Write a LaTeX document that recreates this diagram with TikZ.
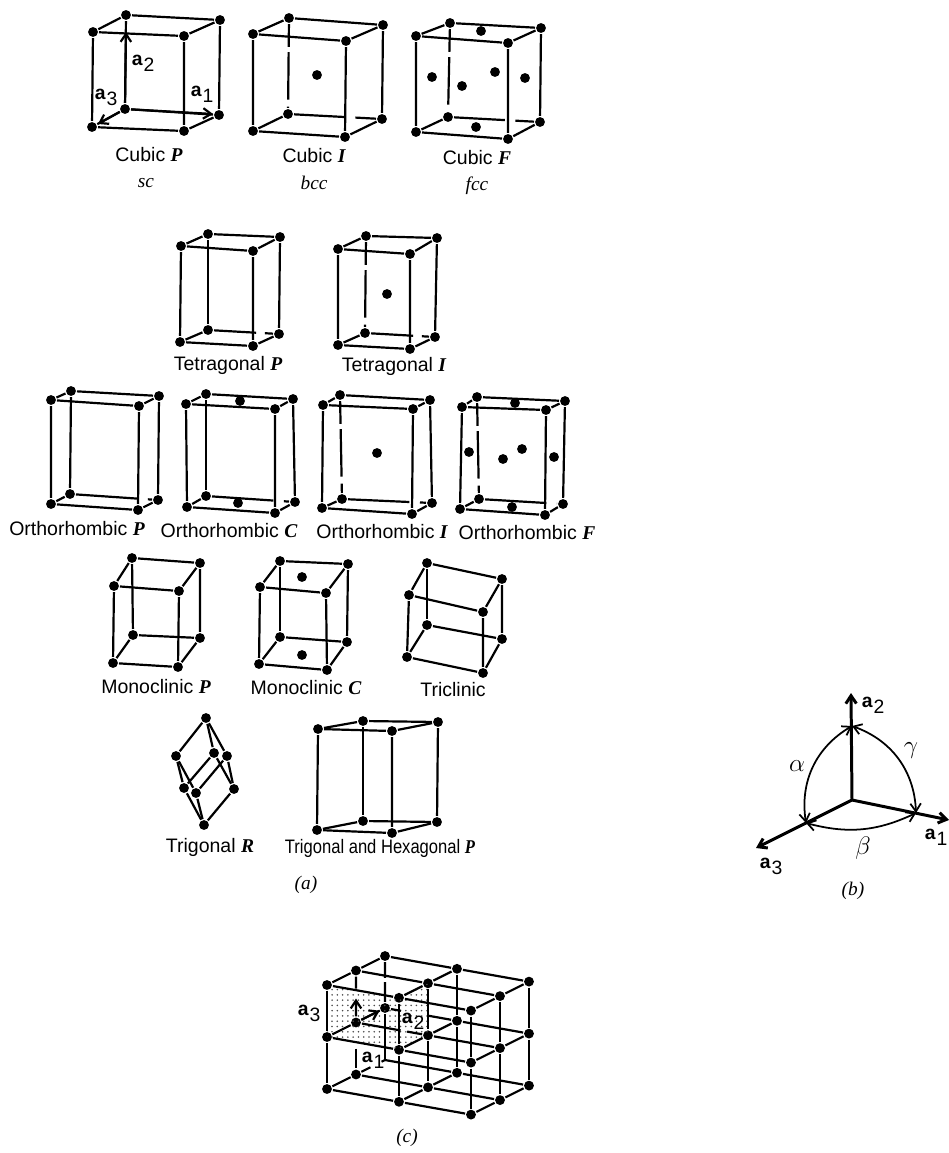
\documentclass[tikz,border=0pt]{standalone}
\usepackage{fontspec}
\setmainfont{Liberation Sans}
\newfontfamily\capfont{Liberation Serif}
\usetikzlibrary{%
  arrows.meta,%
  patterns,% shaded plane in (c)
  calc%
}

% bold italic lattice letter
\newcommand{\lett}[1]{{\capfont\bfseries\itshape #1}}
% basis vector
\newcommand{\avec}[1]{\textbf{a}\kern0.5pt\raisebox{-0.6ex}{#1}}

% name, back vertical, back horizontal, corners
\newcommand{\latticecell}[4]{
  \foreach \c/\x/\y in {#4} {
    \node[atom] (#1\c) at (\x,\y) {};
  }
  \draw (#1a) -- (#1b) -- (#1d) -- (#1c) -- (#1a);
  \draw (#1e) -- (#1f) -- (#1h);
  \draw (#1a) -- (#1e);
  \draw (#1b) -- (#1f);
  \draw (#1c) -- (#1g);
  \draw (#1d) -- (#1h);
  \draw[#2] (#1e) -- (#1g);
  \draw[#3] (#1g) -- (#1h);
}

\begin{document}
\begin{tikzpicture}
  [
  x=0.02cm, y=-0.02cm, line width=1.25pt, >={Straight Barb[length=4.5pt,width=6pt]},
  atom/.style={circle, fill=black, inner sep=0pt, minimum size=5.6pt},
  lbl/.style={inner sep=0pt, font=\fontsize{11.1}{13}\selectfont},
  capt/.style={inner sep=0pt, font=\fontsize{11}{13}\capfont\itshape},
  vec/.style={inner sep=0pt, font=\fontsize{11}{13}\selectfont},
  greek/.style={inner sep=0pt, font=\Large},
  axis/.style={->, line width=1.7pt},
  angl/.style={<->, line width=1pt},
  plainln/.style={},
  vgap/.style={dash pattern=on 13pt off 3pt on 27pt off 4pt on 20pt off 1pt},
  hgapa/.style={dash pattern=on 29pt off 6pt on 30pt off 1pt},
  hgapb/.style={dash pattern=on 24pt off 5pt on 30pt off 1pt},
  hgapc/.style={dash pattern=on 35pt off 6pt on 30pt off 1pt}
  ]
\useasboundingbox (0,0) rectangle (949,1153);

% (a) cubic
\latticecell{cp}{plainln}{plainln}{a/93/32,b/184/36,c/92/127,d/184/131,e/126/15,f/220/20,g/125/109,h/219/115}
\latticecell{ci}{vgap}{hgapa}{a/253/34,b/346/41,c/253/131,d/345/137,e/289/18,f/383/25,g/288/114,h/382/119}
\latticecell{cf}{vgap}{hgapa}{a/416/36,b/508/43,c/416/132,d/508/139,e/450/23,f/541/28,g/448/117,h/540/122}
\node[atom] (cid) at (317,75) {};
\foreach \n/\x/\y in {1/481/31,2/432/77,3/462/86,4/495/72,5/525/78,6/476/127} {
  \node[atom] (cfd\n) at (\x,\y) {};
}
\coordinate (tipa) at (213,114);
\coordinate (tipb) at (126,32);
\coordinate (tipc) at (98,124);
\draw[->] (cpg) -- (tipa);
\draw[->] (cpg) -- (tipb);
\draw[->] (cpg) -- (tipc);
\node[vec] (cpa2) at (143,63) {\avec{2}};
\node[vec] (cpa3) at (106,97) {\avec{3}};
\node[vec] (cpa1) at (202,94) {\avec{1}};
\node[lbl] (cpl) at (149,155) {Cubic \lett{P}};
\node[lbl] (cil) at (314,156) {Cubic \lett{I}};
\node[lbl] (cfl) at (477,158) {Cubic \lett{F}};
\node[capt] (cps) at (146,183) {sc};
\node[capt] (cis) at (314,183) {bcc};
\node[capt] (cfs) at (477,186) {fcc};

% tetragonal
\latticecell{tp}{plainln}{hgapb}{a/181/246,b/253/251,c/180/342,d/253/346,e/208/234,f/280/237,g/208/330,h/279/334}
\latticecell{ti}{vgap}{hgapb}{a/338/249,b/410/254,c/338/345,d/410/349,e/366/236,f/437/238,g/365/333,h/435/337}
\node[atom] (tid) at (387,294) {};
\node[lbl] (tpl) at (228,365) {Tetragonal \lett{P}};
\node[lbl] (til) at (394,366) {Tetragonal \lett{I}};

% orthorhombic
\latticecell{op}{plainln}{hgapc}{a/51/400,b/139/406,c/51/504,d/138/510,e/71/391,f/159/396,g/70/494,h/158/500}
\latticecell{oc}{plainln}{hgapc}{a/186/404,b/275/409,c/187/507,d/275/513,e/206/394,f/293/399,g/206/496,h/295/502}
\latticecell{oi}{vgap}{hgapc}{a/323/405,b/413/409,c/322/508,d/412/514,e/340/395,f/430/400,g/342/499,h/432/503}
\latticecell{of}{vgap}{hgapc}{a/462/407,b/546/410,c/460/509,d/545/515,e/477/397,f/565/401,g/479/499,h/563/504}
\node[atom] (ocd1) at (240,401) {};
\node[atom] (ocd2) at (238,503) {};
\node[atom] (oid) at (377,453) {};
\foreach \n/\x/\y in {1/515/403,2/469/452,3/503/459,4/522/449,5/554/457,6/512/507} {
  \node[atom] (ofd\n) at (\x,\y) {};
}
\node[lbl] (opl) at (77,529) {Orthorhombic \lett{P}};
\node[lbl] (ocl) at (229,531) {Orthorhombic \lett{C}};
\node[lbl] (oil) at (382,532) {Orthorhombic \lett{I}};
\node[lbl] (ofl) at (527,533) {Orthorhombic \lett{F}};

% monoclinic, triclinic
\latticecell{mp}{plainln}{plainln}{a/114/586,b/179/591,c/113/663,d/178/667,e/132/558,f/200/563,g/133/635,h/200/638}
\latticecell{mc}{plainln}{plainln}{a/260/587,b/326/593,c/259/664,d/327/670,e/280/561,f/348/564,g/280/637,h/347/642}
\latticecell{tc}{plainln}{plainln}{a/409/595,b/483/612,c/407/657,d/483/673,e/427/563,f/502/579,g/427/625,h/502/639}
\node[atom] (mcd1) at (302,577) {};
\node[atom] (mcd2) at (302,655) {};
\node[lbl] (mpl) at (156,687) {Monoclinic \lett{P}};
\node[lbl] (mcl) at (306,688) {Monoclinic \lett{C}};
\node[lbl] (tcl) at (453,690) {Triclinic};

% trigonal R
\foreach \c/\x/\y in {t/206/718,a/176/756,k/214/753,d/227/756,p/184/788,q/196/793,r/234/789,b/204/825} {
  \node[atom] (tr\c) at (\x,\y) {};
}
\foreach \s/\e in {t/a,t/k,t/d,a/p,a/q,k/p,k/r,d/q,d/r,p/b,q/b,r/b} {
  \draw (tr\s) -- (tr\e);
}
\node[lbl] (trl) at (210,847) {Trigonal \lett{R}};

% hexagonal
\latticecell{hx}{plainln}{plainln}{a/318/729,b/392/731,c/317/830,d/392/833,e/363/721,f/438/722,g/363/821,h/437/822}
\node[lbl] (hxl) at (380,848) {\scalebox{0.85}[1]{Trigonal and Hexagonal \lett{P}}};
\node[capt] (capa) at (306,885) {(a)};

% (b) axes
\coordinate (org) at (852,800);
\coordinate (pa) at (916,813);
\coordinate (pb) at (852,726);
\coordinate (pc) at (806,823);
\coordinate (enda) at (949,820);
\coordinate (endb) at (851,693);
\coordinate (endc) at (756,848);
\draw[axis] (org) -- (enda);
\draw[axis] (org) -- (endb);
\draw[axis] (org) -- (endc);
\draw[angl] (pc) to[bend left=34] (pb);
\draw[angl] (pb) to[bend left=34] (pa);
\draw[angl] (pc) to[bend right=20] (pa);
\node[vec] (ba2) at (873,705) {\avec{2}};
\node[vec] (ba3) at (771,866) {\avec{3}};
\node[vec] (ba1) at (936,837) {\avec{1}};
\node[greek] (balpha) at (797,766) {$\alpha$};
\node[greek] (bgamma) at (911,751) {$\gamma$};
\node[greek] (bbeta) at (863,848) {$\beta$};
\node[capt] (capb) at (853,891) {(b)};

% (c) lattice: i along, j deep, k down
\foreach \i in {0,1,2} {
  \foreach \j in {0,1,2} {
    \foreach \k in {0,1,2} {
      \ifnum\i\j\k=22
        \coordinate (c\i\j\k) at (327+72*\i+29*\j,985+12.8*\i-14.5*\j+52*\k);
      \else
        \node[atom] (c\i\j\k) at (327+72*\i+29*\j,985+12.8*\i-14.5*\j+52*\k) {};
      \fi
    }
  }
}
\fill[pattern=dots, pattern color=black!70] (c000.center) -- (c100.center) -- (c110.center) -- (c111.center) -- (c101.center) -- (c001.center) -- cycle;

\foreach \i/\j in {0/0,1/0,2/0,1/1,2/1,1/2,2/2} {
  \draw (c\i\j0) -- (c\i\j1) -- (c\i\j2);
}
\foreach \i/\k in {0/0,1/0,2/0,0/1,1/1,2/1,1/2,2/2} {
  \draw (c\i0\k) -- (c\i1\k) -- (c\i2\k);
}
\foreach \j/\k in {0/0,1/0,2/0,0/1,0/2,1/2,2/2} {
  \draw (c0\j\k) -- (c1\j\k) -- (c2\j\k);
}
% the broken lines round the labels
\draw (c002) -- (c012);
\draw (c012) -- ($(c012)!0.5!(c022)$);
\draw (c022) -- ($(c022)!0.12!(c012)$);
\draw (c010) -- ($(c010)!0.35!(c011)$);
\draw[->] (c011) -- ($(c011)!0.46!(c010)$);
\draw ($(c011)!0.5!(c012)$) -- (c012);
\draw (c020) -- ($(c020)!0.42!(c021)$);
\draw ($(c020)!0.5!(c021)$) -- (c021);
\draw (c021) -- (c022);
\draw (c011) -- ($(c011)!0.62!(c111)$);
\draw ($(c011)!0.71!(c111)$) -- (c111) -- (c211);
\draw (c021) -- ($(c021)!0.22!(c121)$);
\draw ($(c021)!0.6!(c121)$) -- (c121) -- (c221);
\draw[->] (c011) -- (c021);
\node[vec] (ca3) at (309,1013) {\avec{3}};
\node[vec] (ca2) at (413,1021) {\avec{2}};
\node[vec] (ca1) at (373,1060) {\avec{1}};
\node[capt] (capc) at (407,1138) {(c)};
\end{tikzpicture}
\end{document}
